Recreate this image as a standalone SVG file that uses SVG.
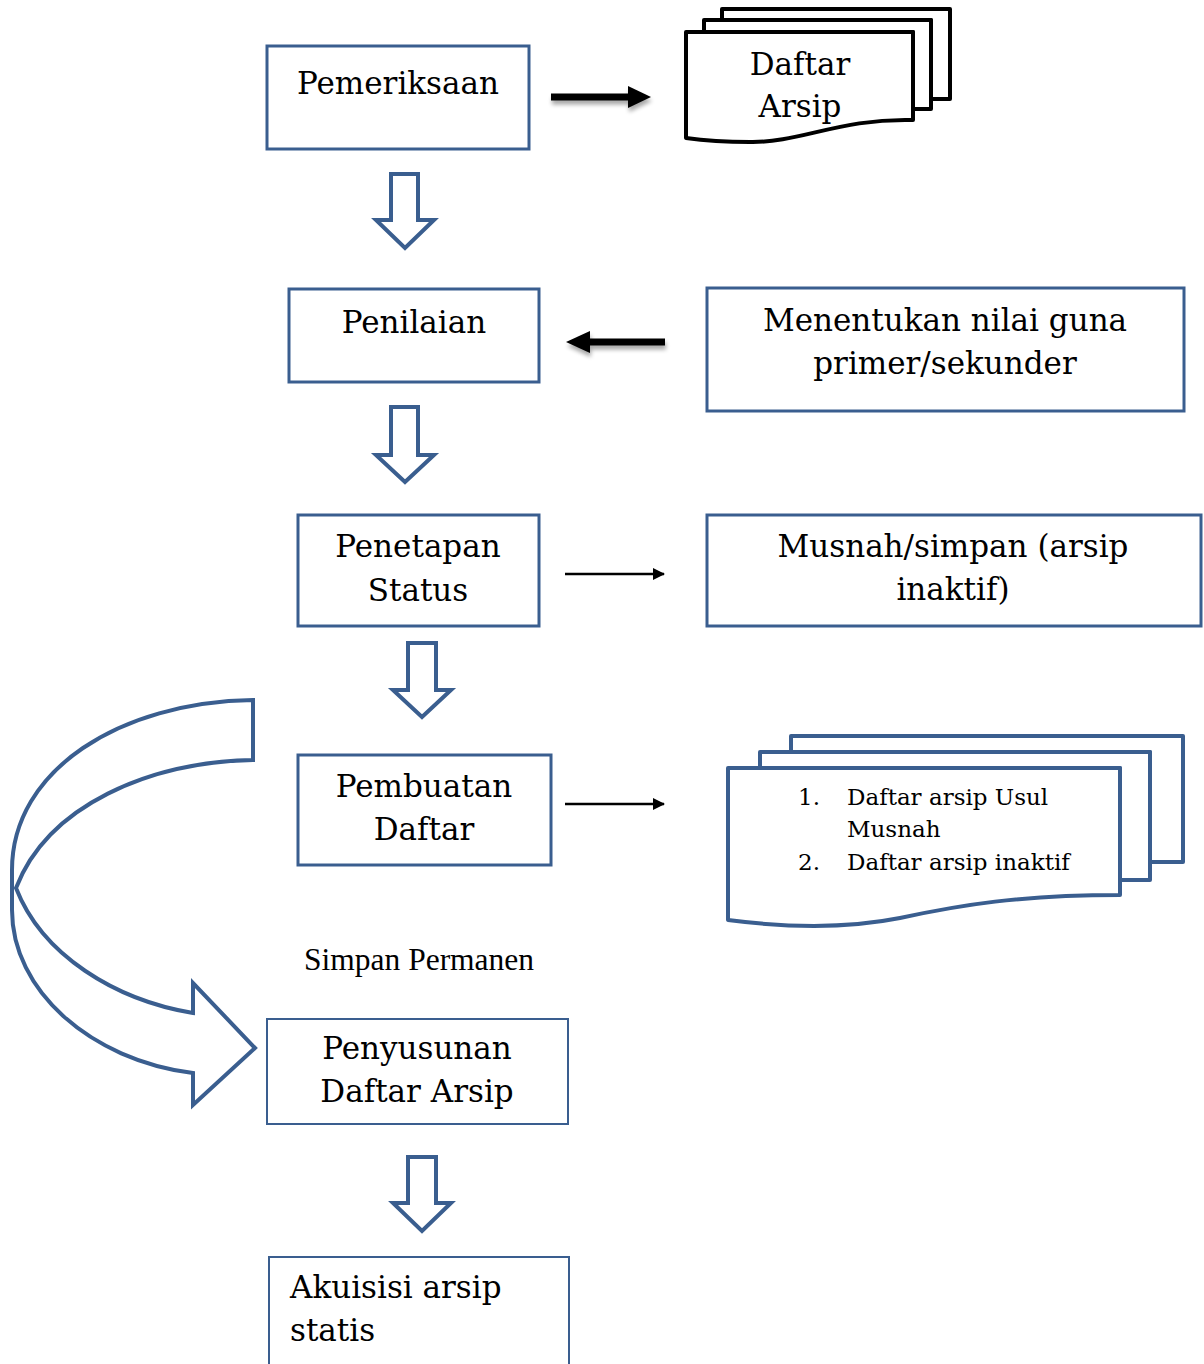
<svg xmlns="http://www.w3.org/2000/svg" width="1204" height="1364" viewBox="0 0 1204 1364">
<style>
.box{fill:#fff;stroke:#3A5E8F;stroke-width:3}
.thin{fill:#fff;stroke:#3A5E8F;stroke-width:2}
.t{font-family:"DejaVu Serif","Liberation Serif",serif;font-size:31px;fill:#000;text-anchor:middle}
.tl{font-family:"DejaVu Serif","Liberation Serif",serif;font-size:31px;fill:#000;text-anchor:start}
.s{font-family:"DejaVu Serif","Liberation Serif",serif;font-size:23px;fill:#000}
.tnr{font-family:"Liberation Serif","Times New Roman",serif;font-size:31.5px;fill:#000}
.hollow{fill:#fff;stroke:#3A5E8F;stroke-width:4;stroke-linejoin:miter}
.doc{fill:#fff;stroke:#000;stroke-width:4;stroke-linejoin:round}
.bdoc{fill:#fff;stroke:#3A5E8F;stroke-width:4;stroke-linejoin:round}
</style>
<defs>
<marker id="ah" markerWidth="12" markerHeight="12" refX="11" refY="6" orient="auto" markerUnits="userSpaceOnUse" viewBox="0 0 12 12">
<path d="M0,0 L12,6 L0,12 Z" fill="#000"/>
</marker>
<filter id="sh" x="-20%" y="-50%" width="140%" height="250%">
<feGaussianBlur in="SourceAlpha" stdDeviation="2"/>
<feOffset dx="1" dy="4" result="b"/>
<feComponentTransfer><feFuncA type="linear" slope="0.35"/></feComponentTransfer>
<feMerge><feMergeNode/><feMergeNode in="SourceGraphic"/></feMerge>
</filter>
</defs>

<g id="connectors">
<g filter="url(#sh)">
<path d="M551,97 L632,97" stroke="#000" stroke-width="7"/>
<path d="M628,86 L651,97 L628,108 Z" fill="#000"/>
</g>
<g filter="url(#sh)">
<path d="M665,342 L586,342" stroke="#000" stroke-width="7"/>
<path d="M590,331 L566,342 L590,353 Z" fill="#000"/>
</g>
<path d="M565,574 L664,574" stroke="#000" stroke-width="2.5" marker-end="url(#ah)"/>
<path d="M565,804 L664,804" stroke="#000" stroke-width="2.5" marker-end="url(#ah)"/>
<path class="hollow" d="M391,174 L418,174 L418,220 L434,220 L405,248 L376,220 L391,220 Z"/>
<path class="hollow" d="M391,407 L418,407 L418,455 L434,455 L405,482 L376,455 L391,455 Z"/>
<path class="hollow" d="M408,643 L436,643 L436,690 L451,690 L422,717 L393,690 L408,690 Z"/>
<path class="hollow" d="M408,1157 L436,1157 L436,1203 L451,1203 L422,1231 L393,1203 L408,1203 Z"/>
<path class="hollow" d="M253,700 L253,760 C150,762 48,805 16,888 C42,955 115,1000 193,1013 L193,983 L255,1048 L193,1105 L193,1073 C90,1060 12,990 12,910 L12,870 C12,770 120,702 253,700 Z"/>
</g>

<g id="pemeriksaan">
<rect class="box" x="267" y="46" width="262" height="103"/>
<text class="t" x="398" y="94">Pemeriksaan</text>
</g>

<g id="daftar-arsip">
<path class="doc" d="M722,9 L950,9 L950,99 L931,99 L931,20 L722,20 Z"/>
<path class="doc" d="M704,20 L931,20 L931,109 L913,109 L913,32 L704,32 Z"/>
<path class="doc" d="M686,32 L913,32 L913,120 C840,118 800,143 750,142 C720,142 700,140 686,138 Z"/>
<text class="t" x="800" y="75">Daftar</text>
<text class="t" x="800" y="117">Arsip</text>
</g>

<g id="penilaian">
<rect class="box" x="289" y="289" width="250" height="93"/>
<text class="t" x="414" y="333">Penilaian</text>
</g>

<g id="menentukan">
<rect class="box" x="707" y="288" width="477" height="123"/>
<text class="t" x="945" y="331">Menentukan nilai guna</text>
<text class="t" x="945" y="374">primer/sekunder</text>
</g>

<g id="penetapan">
<rect class="box" x="298" y="515" width="241" height="111"/>
<text class="t" x="418" y="557">Penetapan</text>
<text class="t" x="418" y="601">Status</text>
</g>

<g id="musnah">
<rect class="box" x="707" y="515" width="494" height="111"/>
<text class="t" x="953" y="557">Musnah/simpan (arsip</text>
<text class="t" x="953" y="600">inaktif)</text>
</g>

<g id="pembuatan">
<rect class="box" x="298" y="755" width="253" height="110"/>
<text class="t" x="424" y="797">Pembuatan</text>
<text class="t" x="424" y="840">Daftar</text>
</g>

<g id="daftar-list">
<path class="bdoc" d="M791,736 L1183,736 L1183,862 L1150,862 L1150,752 L791,752 Z"/>
<path class="bdoc" d="M760,752 L1150,752 L1150,880 L1120,880 L1120,768 L760,768 Z"/>
<path class="bdoc" d="M728,768 L1120,768 L1120,895 C1020,895 960,905 900,918 C850,928 790,928 728,920 Z"/>
<text class="s" x="798" y="805">1.</text>
<text class="s" x="847" y="805">Daftar arsip Usul</text>
<text class="s" x="847" y="837">Musnah</text>
<text class="s" x="798" y="870">2.</text>
<text class="s" x="847" y="870">Daftar arsip inaktif</text>
</g>

<g id="simpan-permanen">
<text class="tnr" x="304" y="970">Simpan Permanen</text>
</g>

<g id="penyusunan">
<rect class="thin" x="267" y="1019" width="301" height="105"/>
<text class="t" x="417" y="1059">Penyusunan</text>
<text class="t" x="417" y="1102">Daftar Arsip</text>
</g>

<g id="akuisisi">
<rect class="thin" x="269" y="1257" width="300" height="120"/>
<text class="tl" x="290" y="1298">Akuisisi arsip</text>
<text class="tl" x="290" y="1341">statis</text>
</g>
</svg>
